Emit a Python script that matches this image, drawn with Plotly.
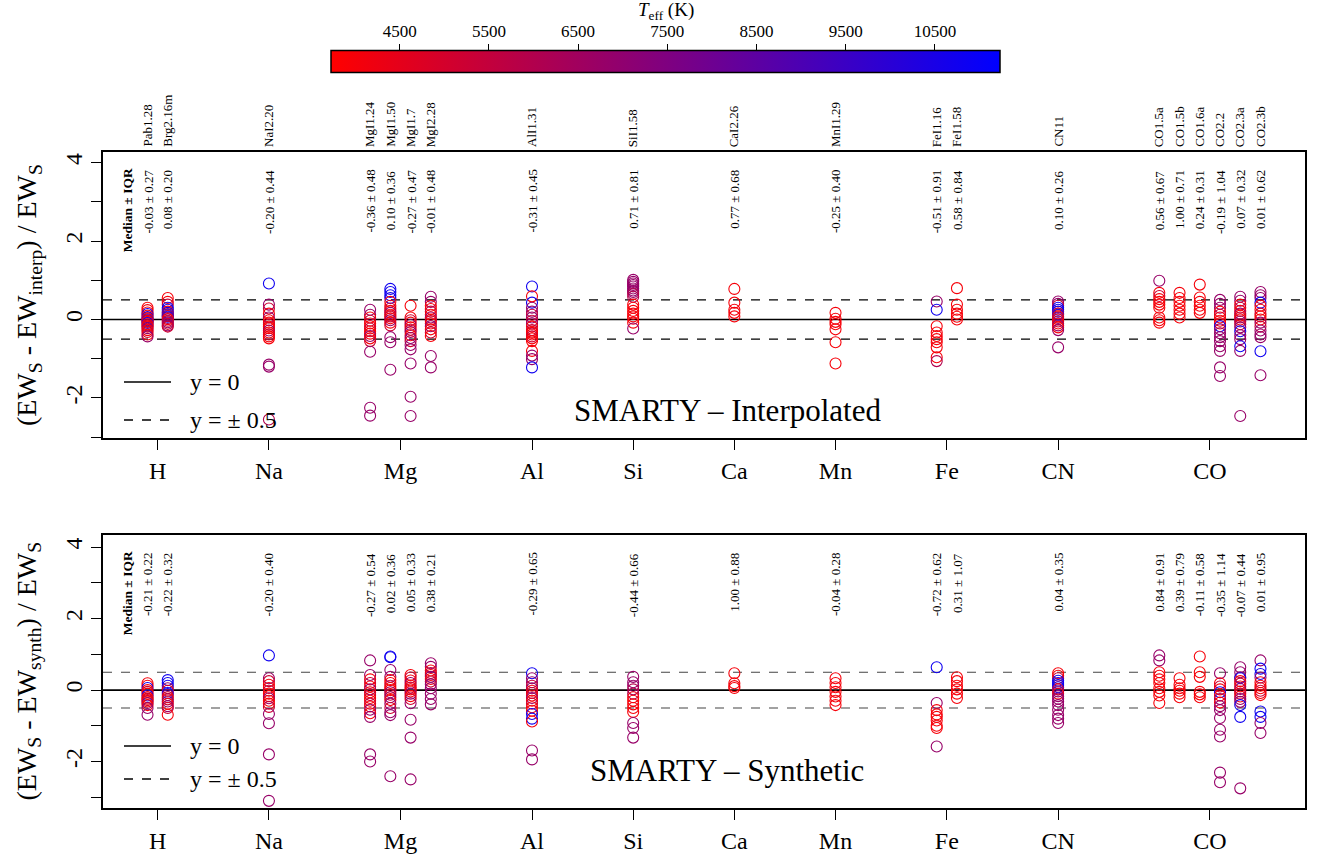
import plotly.graph_objects as go

FONT = "Liberation Serif"
W, H = 1318, 854

# ---------------- categories ----------------
GROUPS = ["H", "Na", "Mg", "Al", "Si", "Ca", "Mn", "Fe", "CN", "CO"]
LINES = [["Pab1.28", "Brg2.16m"], ["NaI2.20"],
         ["MgI1.24", "MgI1.50", "MgI1.7", "MgI2.28"], ["AlI1.31"], ["SiI1.58"],
         ["CaI2.26"], ["MnI1.29"], ["FeI1.16", "FeI1.58"], ["CN11"],
         ["CO1.5a", "CO1.5b", "CO1.6a", "CO2.2", "CO2.3a", "CO2.3b"]]

INTERP_STATS = ["-0.03 ± 0.27", "0.08 ± 0.20", "-0.20 ± 0.44", "-0.36 ± 0.48", "0.10 ± 0.36",
                "-0.27 ± 0.47", "-0.01 ± 0.48", "-0.31 ± 0.45", "0.71 ± 0.81", "0.77 ± 0.68",
                "-0.25 ± 0.40", "-0.51 ± 0.91", "0.58 ± 0.84", "0.10 ± 0.26", "0.56 ± 0.67",
                "1.00 ± 0.71", "0.24 ± 0.31", "-0.19 ± 1.04", "0.07 ± 0.32", "0.01 ± 0.62"]
SYNTH_STATS = ["-0.21 ± 0.22", "-0.22 ± 0.32", "-0.20 ± 0.40", "-0.27 ± 0.54", "0.02 ± 0.36",
               "0.05 ± 0.33", "0.38 ± 0.21", "-0.29 ± 0.65", "-0.44 ± 0.66", "1.00 ± 0.88",
               "-0.04 ± 0.28", "-0.72 ± 0.62", "0.31 ± 1.07", "0.04 ± 0.35", "0.84 ± 0.91",
               "0.39 ± 0.79", "-0.11 ± 0.58", "-0.35 ± 1.14", "-0.07 ± 0.44", "0.01 ± 0.95"]

Y_TICKS = [-2, 0, 2, 4]
Y_TICK_TEXT = ["-2", "0", "2", "4"]

# ---------------- data: (relative EW difference, Teff [K]) ----------------
I_PAB128 = [(0.30, 4000), (0.24, 4000), (0.18, 4200), (0.14, 10800), (0.10, 4000), (0.06, 10800),
            (0.03, 5200), (0.00, 4000), (-0.02, 10800), (-0.04, 4000), (-0.06, 4300), (-0.09, 10800),
            (-0.12, 4000), (-0.15, 5200), (-0.18, 4000), (-0.22, 6800), (-0.27, 4000), (-0.32, 5200),
            (-0.38, 4000), (-0.43, 6800)]
I_BRG216 = [(0.55, 4000), (0.45, 4000), (0.38, 5200), (0.30, 10800), (0.25, 10800), (0.20, 4000),
            (0.17, 10800), (0.14, 6800), (0.11, 10800), (0.09, 4000), (0.07, 10800), (0.04, 6800),
            (0.01, 4000), (-0.03, 5200), (-0.07, 6800), (-0.11, 5200), (-0.15, 6800), (-0.18, 5200)]
I_NAI220 = [(0.92, 10800), (0.38, 6800), (0.28, 5200), (0.15, 4000), (0.05, 6800), (-0.02, 4000),
            (-0.08, 4000), (-0.13, 5200), (-0.18, 4000), (-0.22, 4000), (-0.28, 6800), (-0.33, 4000),
            (-0.38, 5200), (-0.43, 4000), (-0.48, 4000), (-1.15, 6800), (-1.20, 6800), (-2.55, 6000)]
I_MGI124 = [(0.25, 6800), (0.12, 6800), (0.05, 4000), (-0.03, 5200), (-0.10, 4000), (-0.17, 4000),
            (-0.23, 5200), (-0.30, 4000), (-0.36, 4000), (-0.42, 6800), (-0.48, 4000), (-0.55, 5200),
            (-0.82, 6800), (-2.25, 6800), (-2.45, 6800)]
I_MGI150 = [(0.78, 10800), (0.70, 10800), (0.62, 10800), (0.55, 10500), (0.45, 4000), (0.35, 4000),
            (0.28, 5200), (0.22, 4000), (0.17, 6800), (0.12, 4000), (0.08, 5200), (0.03, 4000),
            (-0.02, 6800), (-0.08, 4000), (-0.15, 5200), (-0.45, 6800), (-0.58, 6800), (-1.28, 6800)]
I_MGI17 = [(0.35, 4000), (0.05, 4000), (-0.02, 5200), (-0.08, 4000), (-0.14, 6800), (-0.20, 4000),
           (-0.26, 5200), (-0.32, 6800), (-0.40, 4000), (-0.47, 6800), (-0.55, 5200), (-0.65, 6800),
           (-0.76, 6800), (-1.12, 6800), (-1.97, 6800), (-2.46, 6800)]
I_MGI228 = [(0.58, 6800), (0.45, 6800), (0.35, 4000), (0.27, 4000), (0.20, 5200), (0.12, 4000),
            (0.05, 6800), (0.00, 4000), (-0.04, 5200), (-0.10, 4000), (-0.17, 6800), (-0.25, 4000),
            (-0.33, 5200), (-0.42, 4000), (-0.93, 6800), (-1.22, 6800)]
I_ALI131 = [(0.84, 10800), (0.59, 4000), (0.43, 10800), (0.30, 6800), (0.20, 6800), (0.12, 5200),
            (0.05, 6800), (-0.03, 5200), (-0.10, 6800), (-0.18, 4000), (-0.27, 5200), (-0.31, 4000),
            (-0.34, 4000), (-0.38, 4000), (-0.43, 5200), (-0.48, 4000), (-0.55, 4000), (-0.80, 4000),
            (-0.92, 6800), (-1.01, 6800), (-1.22, 10800)]
I_SII158 = [(1.01, 6800), (0.96, 6800), (0.92, 6800), (0.88, 6800), (0.84, 6800), (0.79, 6800),
            (0.74, 6800), (0.70, 6800), (0.65, 6000), (0.58, 6000), (0.38, 4000), (0.30, 4000),
            (0.22, 4000), (0.15, 4000), (0.08, 4000), (0.02, 4000), (-0.08, 4000), (-0.23, 6800)]
I_CAI226 = [(0.78, 4000), (0.43, 4000), (0.25, 4000), (0.17, 4000), (0.08, 4000)]
I_MNI129 = [(0.17, 4000), (0.02, 4000), (-0.06, 4000), (-0.12, 4000), (-0.25, 4000), (-0.58, 4000),
            (-1.12, 4000)]
I_FEI116 = [(0.46, 6800), (0.25, 10800), (-0.17, 4000), (-0.33, 4000), (-0.42, 4000), (-0.50, 4000),
            (-0.58, 4000), (-0.71, 4000), (-0.96, 4000), (-1.06, 6000)]
I_FEI158 = [(0.80, 4000), (0.38, 4000), (0.25, 4000), (0.15, 4000), (0.07, 4000), (0.00, 4000)]
I_CN11 = [(0.46, 6800), (0.40, 6800), (0.35, 5200), (0.30, 10800), (0.25, 10800), (0.20, 10800),
          (0.15, 5200), (0.12, 10800), (0.08, 4000), (0.04, 6800), (0.00, 4000), (-0.05, 5200),
          (-0.10, 4000), (-0.15, 6800), (-0.20, 4000), (-0.27, 6800), (-0.71, 6800)]
I_CO15A = [(0.99, 6800), (0.68, 4000), (0.60, 5200), (0.52, 4000), (0.45, 4000), (0.38, 4000),
           (0.30, 4000), (0.05, 4000), (-0.02, 4000), (-0.08, 4000)]
I_CO15B = [(0.68, 4000), (0.55, 4000), (0.45, 4000), (0.35, 4000), (0.25, 4000), (0.15, 4000),
           (0.05, 4000)]
I_CO16A = [(0.89, 4000), (0.56, 4000), (0.45, 4000), (0.35, 4000), (0.25, 4000), (0.17, 4000)]
I_CO22 = [(0.50, 6800), (0.40, 6800), (0.30, 6800), (0.20, 4000), (0.12, 5200), (0.05, 4000),
          (-0.03, 4000), (-0.10, 4000), (-0.17, 10800), (-0.25, 6800), (-0.35, 6800), (-0.45, 6800),
          (-0.55, 6800), (-0.68, 6800), (-0.80, 6800), (-1.22, 6800), (-1.44, 6800)]
I_CO23A = [(0.58, 6800), (0.48, 6800), (0.38, 4000), (0.30, 5200), (0.22, 4000), (0.15, 6800),
           (0.10, 4000), (0.05, 5200), (0.00, 4000), (-0.05, 6800), (-0.12, 5200), (-0.20, 6800),
           (-0.30, 10800), (-0.40, 6800), (-0.50, 6800), (-0.68, 10800), (-0.80, 6800), (-2.46, 6800)]
I_CO23B = [(0.70, 6800), (0.62, 6800), (0.55, 6800), (0.43, 10800), (0.35, 4000), (0.25, 4000),
           (0.15, 5200), (0.08, 4000), (0.00, 4000), (-0.08, 6800), (-0.18, 5200), (-0.28, 6800),
           (-0.38, 6800), (-0.45, 6800), (-0.81, 10800), (-1.42, 6800)]

S_PAB128 = [(0.19, 4000), (0.12, 4000), (0.06, 10800), (0.00, 4000), (-0.05, 5200), (-0.10, 4000),
            (-0.15, 10800), (-0.20, 4000), (-0.24, 4000), (-0.28, 5200), (-0.32, 4000), (-0.36, 6800),
            (-0.42, 4000), (-0.50, 6800), (-0.69, 6800)]
S_BRG216 = [(0.28, 10800), (0.20, 10800), (0.12, 10800), (0.05, 6800), (-0.02, 4000), (-0.08, 10800),
            (-0.14, 6800), (-0.20, 4000), (-0.26, 5200), (-0.32, 6800), (-0.38, 4000), (-0.45, 6800),
            (-0.50, 5200), (-0.69, 4000)]
S_NAI220 = [(0.97, 10800), (0.33, 6800), (0.25, 5200), (0.15, 4000), (0.06, 4000), (-0.02, 5200),
            (-0.10, 4000), (-0.17, 4000), (-0.23, 6800), (-0.30, 4000), (-0.38, 4000), (-0.47, 5200),
            (-0.67, 6800), (-0.93, 6800), (-1.80, 6800), (-3.10, 6800)]
S_MGI124 = [(0.83, 6800), (0.42, 6800), (0.30, 4000), (0.20, 5200), (0.10, 4000), (0.02, 6800),
            (-0.06, 4000), (-0.14, 5200), (-0.22, 4000), (-0.30, 4000), (-0.38, 5200), (-0.46, 4000),
            (-0.55, 6800), (-0.65, 4000), (-0.75, 6800), (-1.80, 6800), (-2.00, 6800)]
S_MGI150 = [(0.94, 10800), (0.92, 10800), (0.56, 6800), (0.37, 6800), (0.28, 4000), (0.20, 4000),
            (0.12, 5200), (0.06, 4000), (0.00, 4000), (-0.06, 6800), (-0.13, 5200), (-0.20, 6800),
            (-0.28, 4000), (-0.38, 6800), (-0.50, 5200), (-0.62, 6800), (-0.70, 6800), (-2.41, 6800)]
S_MGI17 = [(0.42, 4000), (0.35, 5200), (0.27, 4000), (0.20, 6800), (0.13, 4000), (0.07, 5200),
           (0.02, 4000), (-0.04, 4000), (-0.10, 6800), (-0.17, 4000), (-0.25, 5200), (-0.37, 6800),
           (-0.83, 6800), (-1.33, 6800), (-2.50, 6800)]
S_MGI228 = [(0.75, 6800), (0.65, 6800), (0.55, 4000), (0.48, 5200), (0.42, 4000), (0.37, 6800),
            (0.31, 4000), (0.24, 5200), (0.16, 6800), (0.05, 6800), (-0.10, 6800), (-0.25, 6800),
            (-0.40, 6800)]
S_ALI131 = [(0.47, 10800), (0.33, 6800), (0.22, 6800), (0.12, 5200), (0.05, 6800), (-0.02, 4000),
            (-0.08, 5200), (-0.15, 4000), (-0.22, 6800), (-0.30, 4000), (-0.38, 5200), (-0.48, 4000),
            (-0.58, 4000), (-0.67, 10800), (-0.80, 10800), (-0.88, 4000), (-1.69, 6800), (-1.94, 6800)]
S_SII158 = [(0.37, 6800), (0.22, 6800), (0.12, 6800), (0.02, 6000), (-0.10, 6000), (-0.20, 4000),
            (-0.30, 4000), (-0.40, 4000), (-0.50, 4000), (-0.61, 4000), (-0.92, 6800), (-1.06, 6800),
            (-1.33, 6800)]
S_CAI226 = [(0.47, 4000), (0.19, 4000), (0.11, 4000), (0.06, 4000)]
S_MNI129 = [(0.33, 4000), (0.20, 4000), (0.08, 4000), (-0.05, 4000), (-0.18, 4000), (-0.30, 4000),
            (-0.42, 4000)]
S_FEI116 = [(0.64, 10800), (-0.36, 6800), (-0.56, 4000), (-0.68, 4000), (-0.75, 4000), (-0.85, 4000),
            (-1.00, 4000), (-1.06, 4000), (-1.58, 6800)]
S_FEI158 = [(0.36, 4000), (0.25, 4000), (0.12, 4000), (0.02, 4000), (-0.10, 4000), (-0.22, 4000)]
S_CN11 = [(0.47, 4000), (0.40, 4000), (0.33, 5200), (0.26, 10800), (0.20, 10800), (0.14, 10800),
          (0.08, 10800), (0.02, 5200), (-0.04, 6800), (-0.10, 4000), (-0.17, 6800), (-0.24, 6800),
          (-0.32, 6800), (-0.42, 6800), (-0.55, 6800), (-0.70, 6800), (-0.80, 6800), (-0.92, 6800)]
S_CO15A = [(0.97, 6800), (0.83, 6800), (0.50, 4000), (0.40, 4000), (0.30, 4000), (0.20, 4000),
           (0.05, 4000), (-0.05, 4000), (-0.15, 4000), (-0.36, 4000)]
S_CO15B = [(0.33, 4000), (0.15, 4000), (0.05, 4000), (-0.02, 4000), (-0.10, 4000), (-0.20, 4000)]
S_CO16A = [(0.94, 4000), (0.50, 4000), (0.37, 4000), (-0.05, 4000), (-0.12, 4000), (-0.20, 4000)]
S_CO22 = [(0.47, 6800), (0.19, 4000), (0.10, 5200), (0.02, 4000), (-0.06, 10800), (-0.15, 4000),
          (-0.25, 6800), (-0.35, 4000), (-0.45, 6800), (-0.56, 6800), (-0.78, 6800), (-1.11, 6800),
          (-1.30, 6800), (-2.31, 6800), (-2.58, 6800)]
S_CO23A = [(0.64, 6800), (0.50, 6800), (0.36, 6800), (0.33, 10800), (0.25, 4000), (0.18, 5200),
           (0.10, 4000), (0.03, 6800), (-0.04, 4000), (-0.10, 5200), (-0.18, 4000), (-0.25, 6800),
           (-0.33, 6800), (-0.42, 10800), (-0.75, 10800), (-2.75, 6800)]
S_CO23B = [(0.83, 6800), (0.60, 10800), (0.45, 10800), (0.35, 6800), (0.22, 4000), (0.12, 4000),
           (0.05, 4000), (-0.02, 5200), (-0.08, 4000), (-0.14, 4000), (-0.60, 10800), (-0.75, 10800),
           (-0.92, 6800), (-1.20, 6800)]

INTERP = [I_PAB128, I_BRG216, I_NAI220, I_MGI124, I_MGI150, I_MGI17, I_MGI228, I_ALI131,
          I_SII158, I_CAI226, I_MNI129, I_FEI116, I_FEI158, I_CN11, I_CO15A, I_CO15B, I_CO16A,
          I_CO22, I_CO23A, I_CO23B]
SYNTH = [S_PAB128, S_BRG216, S_NAI220, S_MGI124, S_MGI150, S_MGI17, S_MGI228, S_ALI131,
         S_SII158, S_CAI226, S_MNI129, S_FEI116, S_FEI158, S_CN11, S_CO15A, S_CO15B, S_CO16A,
         S_CO22, S_CO23A, S_CO23B]

TEFF_MIN, TEFF_MAX = 3730, 11230
CB_TICKS = [4500, 5500, 6500, 7500, 8500, 9500, 10500]

# ---------------- positions (groups separated by a gap) ----------------
line_x, line_names, group_x = [], [], []
pos = 1
for gi, names in enumerate(LINES):
    start = pos
    for nm in names:
        line_x.append(pos)
        line_names.append(nm)
        pos += 1
    group_x.append((start + pos - 1) / 2)
    pos += 4

fig = go.Figure()


def px_x(p):
    return p / W


def px_y(p):
    return 1 - p / H


XDOM = [px_x(103), px_x(1305)]
CB_L, CB_R, CB_T, CB_B = 331, 1000, 52, 74

PANELS = [
    dict(data=INTERP, stats=INTERP_STATS, ydom=[px_y(438), px_y(152)], yr=[-3.02, 4.27],
         xa="x", ya="y", top=152, bottom=438, lab="EW<sub>interp</sub>", name="SMARTY – Interpolated",
         dash="black"),
    dict(data=SYNTH, stats=SYNTH_STATS, ydom=[px_y(808), px_y(535)], yr=[-3.30, 4.34],
         xa="x2", ya="y2", top=535, bottom=808, lab="EW<sub>synth</sub>", name="SMARTY – Synthetic",
         dash="#444444"),
]

colorscale = [[0, "rgb(255,0,0)"], [1, "rgb(0,0,255)"]]

for k, P in enumerate(PANELS):
    xs, ys, cs = [], [], []
    for xi, pts in zip(line_x, P["data"]):
        for v, t in pts:
            xs.append(xi)
            ys.append(v)
            cs.append(t)
    marker = dict(symbol="circle-open", size=11, color=cs, colorscale=colorscale,
                  cmin=TEFF_MIN, cmax=TEFF_MAX, line=dict(width=1.1))
    if k == 0:
        marker.update(showscale=True, colorbar=dict(
            orientation="h", x=(CB_L + CB_R) / 2 / W, xanchor="center",
            y=px_y(CB_B), yanchor="bottom", len=CB_R - CB_L, lenmode="pixels",
            thickness=CB_B - CB_T, thicknessmode="pixels", outlinewidth=1.5, outlinecolor="black",
            ticks="", showticklabels=False, xpad=0, ypad=0))
    else:
        marker.update(showscale=False)
    fig.add_trace(go.Scatter(x=xs, y=ys, mode="markers", marker=marker, xaxis=P["xa"],
                             yaxis=P["ya"], showlegend=False, hoverinfo="x+y"))

    # reference lines
    for yv, dash, col, w in [(0, "solid", "black", 1.6), (0.5, "dash", P["dash"], 1.1),
                             (-0.5, "dash", P["dash"], 1.1)]:
        fig.add_shape(type="line", xref=P["xa"] + " domain", x0=0, x1=1, yref=P["ya"],
                      y0=yv, y1=yv, line=dict(color=col, width=w, dash=dash), layer="below")

    # median +/- IQR texts
    for xi, txt in zip(line_x, P["stats"]):
        fig.add_annotation(x=xi, xref=P["xa"], y=px_y(P["top"] + 16), yref="paper",
                           text=txt, textangle=-90, showarrow=False, xanchor="center",
                           yanchor="top", font=dict(family=FONT, size=13, color="black"))
    fig.add_annotation(x=0, xref=P["xa"], y=px_y(P["top"] + 14), yref="paper",
                       text="<b>Median ± IQR</b>", textangle=-90, showarrow=False,
                       xanchor="center", yanchor="top", font=dict(family=FONT, size=13.5, color="black"))

    # y-axis title
    fig.add_annotation(x=px_x(28), xref="paper", y=px_y((P["top"] + P["bottom"]) / 2), yref="paper",
                       text="(EW<sub>S</sub> - " + P["lab"] + ") / EW<sub>S</sub>", textangle=-90,
                       showarrow=False, xanchor="center", yanchor="middle",
                       font=dict(family=FONT, size=28, color="black"))

    # panel label
    ly = 410 if k == 0 else 770
    fig.add_annotation(x=px_x(727), xref="paper", y=px_y(ly), yref="paper", text=P["name"],
                       showarrow=False, xanchor="center", yanchor="middle",
                       font=dict(family=FONT, size=31, color="black"))

    # manual legend
    l1, l2 = (382, 420) if k == 0 else (746, 779)
    for yy, dash in [(l1, "solid"), (l2, "dash")]:
        fig.add_shape(type="line", xref="paper", yref="paper", x0=px_x(124), x1=px_x(171),
                      y0=px_y(yy), y1=px_y(yy), line=dict(color="black", width=1.3, dash=dash))
    fig.add_annotation(x=px_x(188), xref="paper", y=px_y(l1), yref="paper", text="y = 0",
                       showarrow=False, xanchor="left", yanchor="middle",
                       font=dict(family=FONT, size=24, color="black"))
    fig.add_annotation(x=px_x(188), xref="paper", y=px_y(l2), yref="paper", text="y = ± 0.5",
                       showarrow=False, xanchor="left", yanchor="middle",
                       font=dict(family=FONT, size=24, color="black"))

# line names above top panel
for xi, nm in zip(line_x, line_names):
    fig.add_annotation(x=xi, xref="x", y=px_y(149), yref="paper", text=nm, textangle=-90,
                       showarrow=False, xanchor="center", yanchor="bottom",
                       font=dict(family=FONT, size=13, color="black"))

# colour-bar title
fig.add_annotation(x=(CB_L + CB_R) / 2 / W, xref="paper", y=px_y(11), yref="paper",
                   text="<i>T</i><sub>eff</sub> (K)", showarrow=False, xanchor="center",
                   yanchor="middle", font=dict(family=FONT, size=19, color="black"))

# empty trace carrying the colour-bar's tick axis (ticks above the bar)
fig.add_trace(go.Scatter(x=[], y=[], xaxis="x3", yaxis="y3", showlegend=False, hoverinfo="skip"))

axis_common = dict(showline=True, mirror=True, linecolor="black", linewidth=1.5,
                   showgrid=False, zeroline=False, ticks="outside", ticklen=10,
                   tickcolor="black", tickwidth=1.3, tickfont=dict(family=FONT, size=24, color="black"))
yaxis_common = dict(tickmode="array", tickvals=Y_TICKS, ticktext=Y_TICK_TEXT, tickangle=-90,
                    minor=dict(ticks="outside", dtick=1, tick0=0, ticklen=10, tickwidth=1.3,
                               tickcolor="black", showgrid=False))

fig.update_layout(
    width=W, height=H, margin=dict(l=0, r=0, t=0, b=0),
    paper_bgcolor="white", plot_bgcolor="white",
    xaxis=dict(domain=XDOM, range=[-1.2, 58.2], anchor="y", tickvals=group_x, ticktext=GROUPS,
               **axis_common),
    yaxis=dict(domain=PANELS[0]["ydom"], range=PANELS[0]["yr"], anchor="x",
               **yaxis_common, **axis_common),
    xaxis2=dict(domain=XDOM, range=[-1.2, 58.2], anchor="y2", tickvals=group_x, ticktext=GROUPS,
                **axis_common),
    yaxis2=dict(domain=PANELS[1]["ydom"], range=PANELS[1]["yr"], anchor="x2",
                **yaxis_common, **axis_common),
    xaxis3=dict(domain=[px_x(CB_L), px_x(CB_R)], range=[TEFF_MIN, TEFF_MAX], anchor="y3",
                side="top", showline=False, showgrid=False, zeroline=False, ticks="outside",
                ticklen=7, tickwidth=1.3, tickcolor="black", tickvals=CB_TICKS,
                ticktext=[str(t) for t in CB_TICKS], fixedrange=True,
                tickfont=dict(family=FONT, size=17, color="black")),
    yaxis3=dict(domain=[px_y(CB_B), px_y(CB_T)], anchor="x3", visible=False, fixedrange=True,
                range=[0, 1]),
    font=dict(family=FONT, color="black"),
)

fig.write_html("out.html")
